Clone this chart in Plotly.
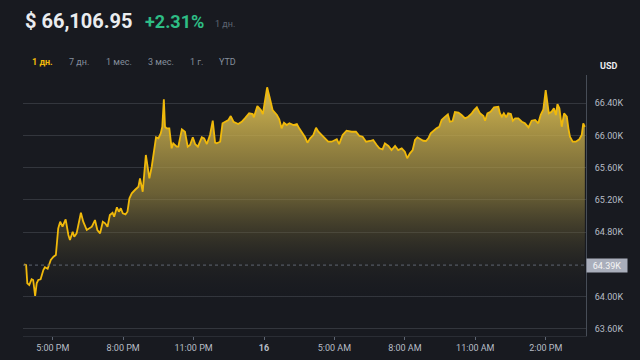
import plotly.graph_objects as go
from datetime import datetime, timedelta

# ---------------- data ----------------
times = ["15:47","15:52","15:55","16:00","16:06","16:10","16:15","16:19","16:23","16:29",
"16:36","16:40","16:47","16:55","17:02","17:08","17:14","17:19","17:25","17:33",
"17:40","17:44","17:51","17:55","18:01","18:12","18:18","18:27","18:40","18:48",
"18:54","19:01","19:08","19:14","19:20","19:26","19:33","19:37","19:44","19:49",
"19:54","19:59","20:06","20:11","20:16","20:22","20:30","20:39","20:43","20:50",
"20:58","21:07","21:13","21:19","21:24","21:30","21:36","21:40","21:44","21:47",
"21:51","21:58","22:04","22:08","22:17","22:21","22:30","22:38","22:45","22:51",
"22:58","23:04","23:11","23:21","23:27","23:34","23:42","23:49","23:55","23:59",
"00:08","00:14","00:20","00:29","00:35","00:42","00:54","01:03","01:11","01:22",
"01:31","01:34","01:43","01:52","01:57","02:08","02:14","02:22","02:33","02:39",
"02:45","02:51","02:58","03:05","03:15","03:24","03:30","03:36","03:45","03:51",
"03:58","04:06","04:13","04:19","04:28","04:36","04:44","04:53","05:02","05:06",
"05:12","05:21","05:31","05:44","05:55","06:04","06:12","06:21","06:31","06:39",
"06:48","06:55","07:03","07:09","07:18","07:26","07:35","07:43","07:52","08:00",
"08:06","08:13","08:20","08:26","08:32","08:41","08:47","08:54","09:00","09:06",
"09:13","09:21","09:28","09:34","09:41","09:50","09:55","10:02","10:08","10:17",
"10:25","10:34","10:42","10:51","10:57","11:04","11:12","11:21","11:25","11:31",
"11:39","11:48","11:59","12:03","12:08","12:13","12:19","12:24","12:31","12:36",
"12:42","12:50","12:59","13:07","13:16","13:24","13:33","13:41","13:47","13:54",
"14:00","14:04","14:08","14:15","14:21","14:26","14:30","14:35","14:41","14:47",
"14:54","14:58","15:02","15:09","15:17","15:26","15:32","15:36","15:40"]

prices = [64400,64391,64164,64143,64214,64205,64006,64164,64205,64214,
64329,64363,64345,64453,64494,64516,64847,64929,64867,64959,
64764,64702,64805,64743,64785,65041,64929,64826,64867,64950,
64826,64785,64929,64909,64867,65012,65041,64991,65108,65053,
65096,65034,65021,65053,65220,65282,65323,65364,65468,65302,
65758,65468,65612,65820,65978,65965,66027,66109,66450,66109,
66089,66089,65841,65903,65861,65861,66077,66047,65861,65882,
65978,65894,65861,65978,65965,65894,66006,66184,65911,65903,
65923,66152,66171,66193,66242,66171,66143,66171,66214,66276,
66267,66226,66366,66317,66267,66599,66482,66317,66255,66201,
66089,66159,66130,66152,66130,66143,66089,66047,65978,65911,
65965,66006,66097,66047,66006,65965,65923,65923,65944,65953,
65894,66006,66060,66047,66047,65994,65985,65923,65932,65944,
65882,65841,65829,65903,65870,65820,65870,65820,65841,65799,
65717,65779,65820,65944,65978,65953,65935,65932,65965,66027,
66060,66089,66109,66193,66226,66263,66171,66180,66292,66286,
66255,66214,66234,66276,66317,66350,66276,66242,66184,66276,
66296,66350,66358,66276,66234,66276,66226,66276,66267,66184,
66214,66214,66171,66152,66102,66184,66193,66152,66255,66325,
66565,66391,66276,66296,66338,66255,66391,66338,66109,66276,
66234,66089,65985,65923,65923,65953,66006,66152,66107]

start_date = "2024-03-15"
x_tick_vals = ["2024-03-15 17:00","2024-03-15 20:00","2024-03-15 23:00","2024-03-16 02:00",
               "2024-03-16 05:00","2024-03-16 08:00","2024-03-16 11:00","2024-03-16 14:00"]
x_tick_text = ["5:00 PM","8:00 PM","11:00 PM","<b>16</b>","5:00 AM","8:00 AM","11:00 AM","2:00 PM"]
y_tick_vals = [63600, 64000, 64800, 65200, 65600, 66000, 66400]
y_tick_text = ["63.60K", "64.00K", "64.80K", "65.20K", "65.60K", "66.00K", "66.40K"]
ref_price = 64390
ref_label = "64.39K"
headline_price = "$ 66,106.95"
headline_change = "+2.31%"
headline_period = "1 дн."
tabs = ["1 дн.", "7 дн.", "1 мес.", "3 мес.", "1 г.", "YTD"]
tab_x = [30, 67, 104, 146, 188, 217]

# build timestamps (roll over to next day)
base = datetime.strptime(start_date, "%Y-%m-%d")
xs = []
day_off = 0
prev = None
for t in times:
    hh, mm = map(int, t.split(":"))
    cur = hh * 60 + mm
    if prev is not None and cur < prev:
        day_off += 1
    prev = cur
    xs.append(base + timedelta(days=day_off, hours=hh, minutes=mm))

BG = "#181a20"
GRID = "#33363d"
AXIS = "#474d57"
TXT = "#b7bdc6"

fig = go.Figure()
fig.add_trace(go.Scatter(
    x=xs, y=prices, mode="lines",
    line=dict(color="#f0b90b", width=1.8),
    fill="tozeroy",
    fillgradient=dict(type="vertical", start=63950, stop=66600,
                      colorscale=[[0, "rgba(24,26,32,0)"],
                                  [0.5, "rgba(165,145,68,0.58)"],
                                  [1, "rgba(232,200,85,0.92)"]]),
    hoverinfo="skip", showlegend=False,
))

fig.update_layout(
    width=640, height=360,
    paper_bgcolor=BG, plot_bgcolor=BG,
    margin=dict(l=23, r=54, t=75, b=24),
    font=dict(family="Roboto, Open Sans, sans-serif", color=TXT, size=9),
    xaxis=dict(
        type="date", automargin=False,
        range=["2024-03-15 15:44", "2024-03-16 15:43"],
        tickvals=x_tick_vals, ticktext=x_tick_text, tickangle=0,
        showgrid=False, zeroline=False,
        showline=True, linecolor="#2a2d34", linewidth=1,
        ticks="outside", ticklen=3, tickcolor="#5e6673",
        tickfont=dict(size=9, color=TXT),
    ),
    yaxis=dict(
        side="right", automargin=False,
        range=[63509, 66752],
        tickvals=y_tick_vals, ticktext=y_tick_text,
        showgrid=True, gridcolor=GRID, gridwidth=1,
        zeroline=False,
        showline=True, linecolor=AXIS, linewidth=1,
        ticks="", ticklabelstandoff=6,
        tickfont=dict(size=9, color=TXT),
    ),
)

# reference dotted line
fig.add_shape(type="line", xref="paper", x0=0, x1=1, yref="y", y0=ref_price, y1=ref_price,
              line=dict(color="#5e6673", width=1, dash="dot"))

# price label on axis
fig.add_annotation(xref="paper", x=1, xanchor="left", yref="y", y=ref_price, yanchor="middle",
                   text=ref_label, showarrow=False, bgcolor="#a9aebb",
                   font=dict(size=9, color="#f5f5f5"), width=40, height=13, borderpad=0)

# USD label
fig.add_annotation(xref="paper", x=1, xshift=12, xanchor="left", yref="paper", y=1, yshift=9,
                   yanchor="middle", text="<b>USD</b>", showarrow=False,
                   font=dict(size=9, color="#eaecef"))

# headline
fig.add_annotation(xref="paper", yref="paper", x=0, xshift=0, xanchor="left",
                   y=1, yshift=54, yanchor="middle", showarrow=False,
                   text="<b>" + headline_price + "</b>",
                   font=dict(size=20, color="#eaecef", family="Roboto"))
fig.add_annotation(xref="paper", yref="paper", x=0, xshift=120, xanchor="left",
                   y=1, yshift=54, yanchor="middle", showarrow=False,
                   text="<b>" + headline_change + "</b>",
                   font=dict(size=18, color="#2ebd85", family="Roboto"))
fig.add_annotation(xref="paper", yref="paper", x=0, xshift=190, xanchor="left",
                   y=1, yshift=51, yanchor="middle", showarrow=False,
                   text=headline_period, font=dict(size=9, color="#5e6673"))

# tabs
for i, (lbl, tx) in enumerate(zip(tabs, tab_x)):
    fig.add_annotation(xref="paper", yref="paper", x=0, xshift=tx - 23, xanchor="left",
                       y=1, yshift=13, yanchor="middle", showarrow=False,
                       text=("<b>" + lbl + "</b>") if i == 0 else lbl,
                       font=dict(size=9, color="#f0b90b" if i == 0 else "#848e9c"))

fig.write_html("out.html", config={"displayModeBar": False},
               post_script="document.body.style.margin='0';document.body.style.background='#181a20';")
